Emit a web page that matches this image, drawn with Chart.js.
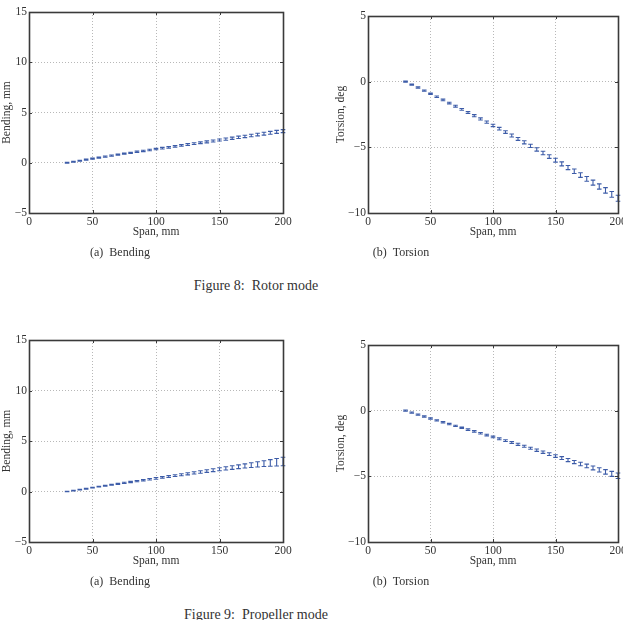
<!DOCTYPE html>
<html>
<head>
<meta charset="utf-8">
<script src="https://cdn.jsdelivr.net/npm/chart.js@4.4.0/dist/chart.umd.min.js"></script>
<style>
  html, body { margin: 0; padding: 0; background: #fff; overflow: hidden; }
  body { width: 623px; height: 620px; position: relative; }
  canvas { position: absolute; }
  .cap { position: absolute; width: 240px; text-align: center; font-family: "Liberation Serif", serif; color: #333; white-space: pre; }
</style>
</head>
<body>
<canvas id="rotorBend" width="300" height="250" style="left:0px;top:0px"></canvas>
<canvas id="rotorTors" width="310" height="250" style="left:320px;top:0px"></canvas>
<canvas id="propBend" width="300" height="250" style="left:0px;top:328px"></canvas>
<canvas id="propTors" width="310" height="250" style="left:320px;top:328px"></canvas>

<div class="cap" style="left:0px;top:245px;font-size:12px;line-height:14px">(a)  Bending</div>
<div class="cap" style="left:281px;top:245px;font-size:12px;line-height:14px">(b)  Torsion</div>
<div class="cap" style="left:136px;top:278px;font-size:14px;line-height:16px">Figure 8:  Rotor mode</div>
<div class="cap" style="left:0px;top:574px;font-size:12px;line-height:14px">(a)  Bending</div>
<div class="cap" style="left:281px;top:574px;font-size:12px;line-height:14px">(b)  Torsion</div>
<div class="cap" style="left:136px;top:607px;font-size:14px;line-height:16px">Figure 9:  Propeller mode</div>

<script>
// span stations, mm
const span = [30, 35, 40, 45, 50, 55, 60, 65, 70, 75, 80, 85, 90, 95, 100, 105, 110, 115,
  120, 125, 130, 135, 140, 145, 150, 155, 160, 165, 170, 175, 180, 185, 190, 195, 200];

// Figure 8: rotor mode
const rotorBending = [0.00, 0.10, 0.20, 0.31, 0.41, 0.51, 0.61, 0.71, 0.80, 0.90, 0.99, 1.09,
  1.18, 1.27, 1.36, 1.45, 1.54, 1.63, 1.72, 1.81, 1.90, 1.99, 2.08, 2.17, 2.26, 2.35, 2.44,
  2.53, 2.62, 2.71, 2.80, 2.89, 2.98, 3.07, 3.15];
const rotorBendingErr = [0.04, 0.04, 0.05, 0.05, 0.05, 0.05, 0.06, 0.06, 0.06, 0.06, 0.06,
  0.07, 0.07, 0.07, 0.07, 0.08, 0.08, 0.08, 0.08, 0.09, 0.09, 0.09, 0.10, 0.10, 0.10, 0.11,
  0.11, 0.12, 0.12, 0.13, 0.13, 0.14, 0.14, 0.15, 0.15];
const rotorTorsion = [0.00, -0.22, -0.45, -0.68, -0.92, -1.15, -1.39, -1.63, -1.87, -2.11,
  -2.35, -2.59, -2.84, -3.08, -3.33, -3.58, -3.84, -4.10, -4.36, -4.62, -4.89, -5.16, -5.43,
  -5.70, -5.98, -6.26, -6.54, -6.82, -7.11, -7.40, -7.69, -7.98, -8.28, -8.58, -8.88];
const rotorTorsionErr = [0.04, 0.04, 0.05, 0.05, 0.05, 0.06, 0.06, 0.06, 0.07, 0.07, 0.07,
  0.08, 0.08, 0.09, 0.09, 0.10, 0.10, 0.11, 0.11, 0.12, 0.12, 0.13, 0.13, 0.14, 0.15, 0.15,
  0.16, 0.17, 0.18, 0.18, 0.19, 0.20, 0.21, 0.22, 0.23];

// Figure 9: propeller mode
const propBending = [0.00, 0.09, 0.18, 0.28, 0.38, 0.48, 0.57, 0.67, 0.76, 0.85, 0.94, 1.03,
  1.12, 1.21, 1.30, 1.39, 1.48, 1.57, 1.66, 1.75, 1.84, 1.93, 2.02, 2.11, 2.20, 2.29, 2.37,
  2.45, 2.53, 2.61, 2.68, 2.76, 2.83, 2.90, 2.97];
const propBendingErr = [0.03, 0.03, 0.03, 0.04, 0.04, 0.04, 0.05, 0.05, 0.05, 0.06, 0.06,
  0.06, 0.07, 0.07, 0.08, 0.08, 0.09, 0.09, 0.10, 0.10, 0.11, 0.12, 0.13, 0.14, 0.15, 0.16,
  0.18, 0.19, 0.21, 0.23, 0.26, 0.29, 0.33, 0.37, 0.42];
const propTorsion = [0.00, -0.15, -0.30, -0.45, -0.60, -0.74, -0.88, -1.02, -1.16, -1.30,
  -1.44, -1.58, -1.72, -1.86, -2.00, -2.14, -2.28, -2.42, -2.56, -2.71, -2.86, -3.01, -3.16,
  -3.31, -3.46, -3.61, -3.76, -3.91, -4.06, -4.21, -4.36, -4.51, -4.66, -4.81, -4.96];
const propTorsionErr = [0.05, 0.05, 0.05, 0.05, 0.05, 0.05, 0.05, 0.05, 0.05, 0.05, 0.06,
  0.06, 0.06, 0.06, 0.06, 0.07, 0.07, 0.07, 0.08, 0.08, 0.08, 0.09, 0.09, 0.10, 0.10, 0.11,
  0.12, 0.12, 0.13, 0.14, 0.15, 0.16, 0.17, 0.19, 0.21];

const blue = "#3d5ca8";
const ink = "#333";
const serif = "'Liberation Serif', 'Times New Roman', serif";

// frame, inward ticks and the error bars themselves
const errorBars = {
  id: "errorBars",
  afterDatasetsDraw(chart) {
    const { ctx, chartArea: a } = chart;
    const xs = chart.scales.x, ys = chart.scales.y;
    ctx.save();
    chart.data.datasets.forEach((ds) => {
      ctx.strokeStyle = ds.borderColor;
      ctx.lineWidth = 1.1;
      ctx.beginPath();
      ds.data.forEach((p, i) => {
        const px = xs.getPixelForValue(p.x);
        const lo = ys.getPixelForValue(p.y - ds.errors[i]);
        const hi = ys.getPixelForValue(p.y + ds.errors[i]);
        ctx.moveTo(px, lo);
        ctx.lineTo(px, hi);
        ctx.moveTo(px - 2.3, lo);
        ctx.lineTo(px + 2.3, lo);
        ctx.moveTo(px - 2.3, hi);
        ctx.lineTo(px + 2.3, hi);
      });
      ctx.stroke();
    });

    ctx.strokeStyle = "#3a3a3a";
    ctx.lineWidth = 1;
    ctx.beginPath();
    xs.ticks.forEach((t) => {
      const px = Math.round(xs.getPixelForValue(t.value)) + 0.5;
      ctx.moveTo(px, a.bottom);
      ctx.lineTo(px, a.bottom - 3);
      ctx.moveTo(px, a.top);
      ctx.lineTo(px, a.top + 3);
    });
    ys.ticks.forEach((t) => {
      const py = Math.round(ys.getPixelForValue(t.value)) + 0.5;
      ctx.moveTo(a.left, py);
      ctx.lineTo(a.left + 3, py);
      ctx.moveTo(a.right, py);
      ctx.lineTo(a.right - 3, py);
    });
    ctx.stroke();
    ctx.lineWidth = 1.6;
    ctx.strokeRect(a.left + 0.5, a.top + 0.5, a.right - a.left, a.bottom - a.top);
    ctx.restore();
  },
};

function makeChart(id, values, errors, yMin, yMax, yTitle, box) {
  const ctx = document.getElementById(id).getContext("2d");
  return new Chart(ctx, {
    type: "scatter",
    data: {
      datasets: [{
        data: span.map((s, i) => ({ x: s, y: values[i] })),
        errors: errors,
        borderColor: blue,
        backgroundColor: blue,
        pointRadius: 0,
        showLine: false,
      }],
    },
    options: {
      responsive: false,
      animation: false,
      devicePixelRatio: 1,
      layout: { padding: { top: box.top, right: box.right, left: 0, bottom: 0 } },
      plugins: { legend: { display: false }, tooltip: { enabled: false } },
      scales: {
        x: {
          type: "linear",
          min: 0,
          max: 200,
          afterFit: (scale) => { scale.height = box.xHeight; },
          ticks: { stepSize: 50, padding: 2, color: ink, font: { family: serif, size: 11.5 } },
          grid: { color: "#b8b8b8", lineWidth: 1, drawTicks: false },
          border: { display: false, dash: [1, 2] },
          title: { display: true, text: "Span, mm", color: ink,
            font: { family: serif, size: 11.5 }, padding: { top: 0, bottom: box.xTitlePad } },
        },
        y: {
          type: "linear",
          min: yMin,
          max: yMax,
          afterFit: (scale) => { scale.width = box.yWidth; },
          ticks: {
            stepSize: 5, padding: 2, color: ink, font: { family: serif, size: 11.5 },
            callback: (v) => String(v).replace("-", "\u2212"),
          },
          grid: { color: "#b8b8b8", lineWidth: 1, drawTicks: false },
          border: { display: false, dash: [1, 2] },
          title: { display: true, text: yTitle, color: ink,
            font: { family: serif, size: 11.5 }, padding: { top: box.yTitlePad, bottom: 0 } },
        },
      },
    },
    plugins: [errorBars],
  });
}

makeChart("rotorBend", rotorBending, rotorBendingErr, -5, 15, "Bending, mm",
  { top: 12, right: 17, yWidth: 29, xHeight: 37, yTitlePad: 0.3, xTitlePad: 11.3 });
makeChart("rotorTors", rotorTorsion, rotorTorsionErr, -10, 5, "Torsion, deg",
  { top: 16, right: 12, yWidth: 48, xHeight: 37, yTitlePad: 14.2, xTitlePad: 11.3 });
makeChart("propBend", propBending, propBendingErr, -5, 15, "Bending, mm",
  { top: 12, right: 17, yWidth: 29, xHeight: 36, yTitlePad: 0.4, xTitlePad: 9.8 });
makeChart("propTors", propTorsion, propTorsionErr, -10, 5, "Torsion, deg",
  { top: 17, right: 12, yWidth: 48, xHeight: 36, yTitlePad: 14.2, xTitlePad: 10.4 });
</script>
</body>
</html>
